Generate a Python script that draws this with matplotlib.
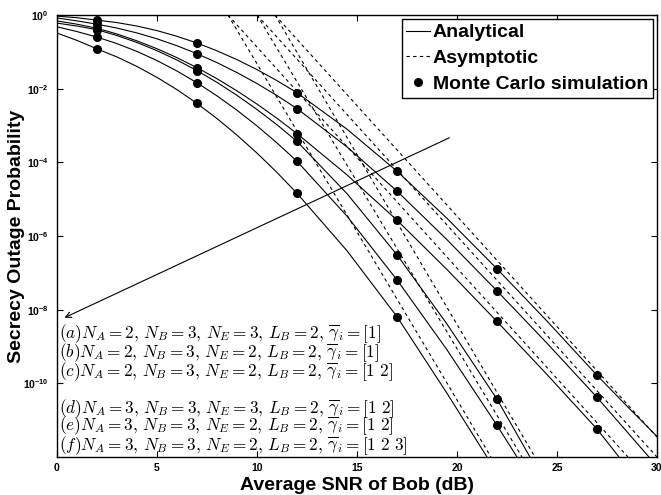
import matplotlib
matplotlib.use("Agg")
import matplotlib.pyplot as plt
from matplotlib.lines import Line2D
import numpy as np

plt.rcParams['font.family'] = ['Liberation Sans', 'DejaVu Sans']
plt.rcParams['mathtext.fontset'] = 'custom'
plt.rcParams['mathtext.rm'] = 'Liberation Sans:bold'
plt.rcParams['mathtext.it'] = 'Liberation Sans:bold'
plt.rcParams['mathtext.bf'] = 'Liberation Sans:bold'

# Analytical curves: SNR (dB) and log10(SOP)
snr_lo = [0, 1, 2, 3, 4, 5, 6, 7, 8, 9, 10, 11, 12]
snr_a = snr_lo + [14.5, 17, 19.5, 22, 24.5, 27, 28.5, 30]
sop_a = [-0.03, -0.075, -0.14, -0.206, -0.30, -0.424, -0.578, -0.76, -0.972, -1.212, -1.482, -1.782, -2.11,
         -3.10, -4.24, -5.52, -6.89, -8.31, -9.78, -10.62, -11.44]
snr_b = snr_lo + [14.5, 17, 19.5, 22, 24.5, 27, 29.6]
sop_b = [-0.08, -0.16, -0.25, -0.355, -0.487, -0.647, -0.835, -1.05, -1.293, -1.563, -1.861, -2.187, -2.54,
         -3.58, -4.78, -6.10, -7.49, -8.91, -10.38, -12.0]
snr_c = snr_lo + [14.5, 17, 19.5, 22, 24.5, 27, 28.1]
sop_c = [-0.16, -0.25, -0.36, -0.516, -0.702, -0.916, -1.158, -1.43, -1.73, -2.06, -2.418, -2.804, -3.22,
         -4.34, -5.57, -6.91, -8.32, -9.76, -11.24, -12.0]
snr_d = snr_lo + [14.5, 17, 19.5, 22, 23.65]
sop_d = [-0.22, -0.30, -0.40, -0.557, -0.747, -0.969, -1.223, -1.51, -1.829, -2.181, -2.565, -2.981, -3.43,
         -4.85, -6.51, -8.39, -10.43, -12.0]
snr_e = snr_lo + [14.5, 17, 19.5, 22, 23.0]
sop_e = [-0.32, -0.45, -0.60, -0.777, -0.989, -1.237, -1.521, -1.84, -2.195, -2.585, -3.011, -3.473, -3.97,
         -5.46, -7.19, -9.09, -11.14, -12.0]
snr_f = snr_lo + [14.5, 17, 19.5, 21.5]
sop_f = [-0.49, -0.69, -0.92, -1.139, -1.397, -1.693, -2.027, -2.40, -2.811, -3.261, -3.749, -4.275, -4.84,
         -6.40, -8.19, -10.27, -12.0]

# Monte Carlo points (log10)
mc_snr = [2, 7, 12, 17, 22, 27]
mc_a = [-0.14, -0.76, -2.11, -4.24, -6.89, -9.78]
mc_b = [-0.25, -1.05, -2.54, -4.78, -7.49, -10.38]
mc_c = [-0.36, -1.43, -3.22, -5.57, -8.32, -11.24]
mc_d = [-0.40, -1.51, -3.43, -6.51, -10.43]
mc_e = [-0.60, -1.84, -3.97, -7.19, -11.14]
mc_f = [-0.92, -2.40, -4.84, -8.19]

# Asymptotic lines: end points (SNR dB, log10 SOP)
asy_snr = [[10.9, 30.0], [10.0, 30.0], [8.55, 28.55], [10.9, 23.9], [10.0, 23.25], [8.55, 21.7]]
asy_sop = [[0, -11.46], [0, -12.0], [0, -12.0], [0, -12.0], [0, -12.0], [0, -12.0]]

case_labels = [
    r'$(a)N_A=2,\,N_B=3,\,N_E=3,\,L_B=2,\,\overline{\gamma}_i=[1]$',
    r'$(b)N_A=2,\,N_B=3,\,N_E=2,\,L_B=2,\,\overline{\gamma}_i=[1]$',
    r'$(c)N_A=2,\,N_B=3,\,N_E=2,\,L_B=2,\,\overline{\gamma}_i=[1\ 2]$',
    r'$(d)N_A=3,\,N_B=3,\,N_E=3,\,L_B=2,\,\overline{\gamma}_i=[1\ 2]$',
    r'$(e)N_A=3,\,N_B=3,\,N_E=2,\,L_B=2,\,\overline{\gamma}_i=[1\ 2]$',
    r'$(f)N_A=3,\,N_B=3,\,N_E=2,\,L_B=2,\,\overline{\gamma}_i=[1\ 2\ 3]$',
]
label_pos = [-8.65, -9.16, -9.68, -10.70, -11.16, -11.68]

fig = plt.figure(figsize=(6.61, 4.95), dpi=100)
ax = fig.add_axes([0.0862, 0.0768, 0.9077, 0.8929])

curves = [(snr_a, sop_a), (snr_b, sop_b), (snr_c, sop_c),
          (snr_d, sop_d), (snr_e, sop_e), (snr_f, sop_f)]
for x, y in curves:
    ax.plot(x, 10.0 ** np.array(y), color='black', lw=0.8)

for x, y in zip(asy_snr, asy_sop):
    ax.plot(x, 10.0 ** np.array(y), color='black', lw=0.8, ls=(0, (3, 3)))

for y in [mc_a, mc_b, mc_c, mc_d, mc_e, mc_f]:
    ax.plot(mc_snr[:len(y)], 10.0 ** np.array(y), 'o', color='black', ms=5.5, ls='none')

ax.set_yscale('log')
ax.set_xlim(0, 30)
ax.set_ylim(1e-12, 1)
ax.set_xticks([0, 5, 10, 15, 20, 25, 30])
ax.set_xticklabels(['0', '5', '10', '15', '20', '25', '30'], fontweight='bold')
yt = [10.0 ** k for k in range(0, -11, -2)]
ax.set_yticks(yt)
ax.set_yticklabels([r'$10^{%d}$' % k for k in range(0, -11, -2)])
ax.minorticks_off()
ax.tick_params(direction='in', length=4, width=0.8, top=True, right=True, labelsize=7.5)
ax.tick_params(axis='y', pad=6)
ax.tick_params(axis='x', pad=4)
for s in ax.spines.values():
    s.set_linewidth(1.0)

ax.set_xlabel('Average SNR of Bob (dB)', fontsize=14, fontweight='bold', labelpad=3.5)
ax.set_ylabel('Secrecy Outage Probability', fontsize=14, fontweight='bold')
ax.yaxis.set_label_coords(-0.053, 0.5)

ax.annotate('', xy=(0.25, 10 ** -8.25), xytext=(19.75, 10 ** -3.3),
            arrowprops=dict(arrowstyle='->', color='black', lw=0.8))

for txt, yp in zip(case_labels, label_pos):
    ax.text(0.1, 10 ** yp, txt, fontsize=12.4, va='center', ha='left', math_fontfamily='cm')

handles = [Line2D([], [], color='black', lw=0.8),
           Line2D([], [], color='black', lw=0.8, ls=(0, (3, 3))),
           Line2D([], [], color='black', marker='o', ms=5.5, ls='none')]
leg = ax.legend(handles, ['Analytical', 'Asymptotic', 'Monte Carlo simulation'],
                loc='upper right', bbox_to_anchor=(0.9933, 0.991), borderaxespad=0,
                prop={'weight': 'bold', 'size': 14}, fancybox=False, framealpha=1,
                edgecolor='black', handlelength=1.2, handletextpad=0.15,
                borderpad=0.25, labelspacing=0.42)
leg.get_frame().set_linewidth(1.0)

fig.savefig('out.png', dpi=100)
